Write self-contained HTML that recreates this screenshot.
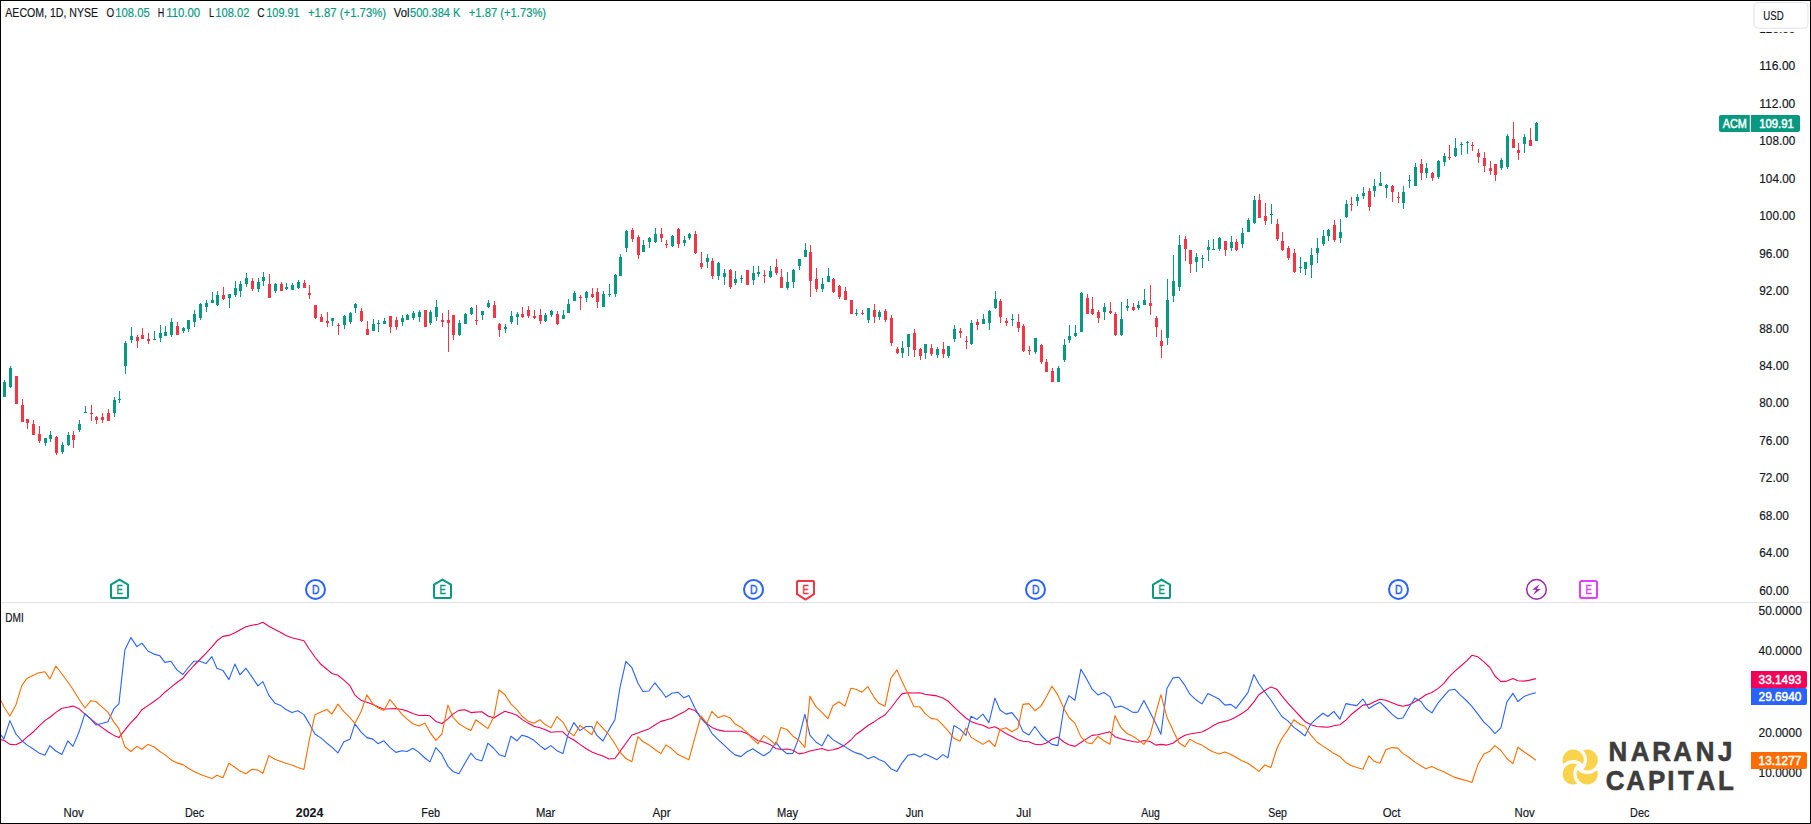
<!DOCTYPE html>
<html lang="en"><head><meta charset="utf-8"><title>AECOM, 1D, NYSE</title>
<style>html,body{margin:0;padding:0;background:#fff;}body{width:1811px;height:824px;overflow:hidden;font-family:"Liberation Sans",sans-serif;}svg text{white-space:pre;}</style>
</head><body>
<svg width="1811" height="824" viewBox="0 0 1811 824" font-family="Liberation Sans, sans-serif" style="display:block">
<g shape-rendering="crispEdges"><path fill="#089981" d="M4 380h1v17h-1z M3 382h3v15h-3z M10 366h1v22h-1z M9 368h3v19h-3z M45 438h1v8h-1z M44 438h3v5h-3z M50 431h1v11h-1z M49 435h3v4h-3z M62 442h1v12h-1z M61 445h3v7h-3z M68 432h1v14h-1z M67 435h3v10h-3z M79 420h1v12h-1z M78 424h3v6h-3z M85 406h1v7h-1z M84 412h3v1h-3z M114 397h1v20h-1z M113 400h3v13h-3z M119 391h1v12h-1z M118 399h3v1h-3z M125 341h1v33h-1z M124 343h3v23h-3z M131 327h1v16h-1z M130 336h3v4h-3z M154 331h1v9h-1z M153 339h3v1h-3z M160 325h1v17h-1z M159 333h3v5h-3z M165 326h1v10h-1z M164 332h3v4h-3z M171 318h1v19h-1z M170 322h3v13h-3z M183 327h1v6h-1z M182 328h3v3h-3z M188 320h1v12h-1z M187 320h3v9h-3z M194 310h1v17h-1z M193 314h3v8h-3z M200 303h1v17h-1z M199 304h3v14h-3z M206 300h1v12h-1z M205 303h3v4h-3z M212 292h1v11h-1z M211 300h3v3h-3z M217 291h1v15h-1z M216 295h3v10h-3z M229 294h1v14h-1z M228 294h3v4h-3z M235 281h1v16h-1z M234 288h3v7h-3z M240 281h1v16h-1z M239 284h3v7h-3z M246 273h1v14h-1z M245 278h3v6h-3z M258 278h1v14h-1z M257 282h3v7h-3z M263 272h1v14h-1z M262 277h3v4h-3z M275 283h1v10h-1z M274 284h3v7h-3z M286 283h1v7h-1z M285 287h3v2h-3z M292 283h1v7h-1z M291 285h3v5h-3z M298 280h1v9h-1z M297 282h3v6h-3z M332 318h1v8h-1z M331 318h3v3h-3z M344 315h1v14h-1z M343 316h3v9h-3z M350 312h1v12h-1z M349 313h3v9h-3z M355 303h1v10h-1z M354 304h3v4h-3z M373 319h1v12h-1z M372 324h3v7h-3z M378 320h1v12h-1z M377 323h3v1h-3z M384 318h1v6h-1z M383 321h3v3h-3z M402 315h1v11h-1z M401 318h3v4h-3z M407 314h1v6h-1z M406 315h3v5h-3z M413 311h1v9h-1z M412 313h3v5h-3z M419 310h1v12h-1z M418 312h3v5h-3z M430 310h1v15h-1z M429 312h3v11h-3z M436 300h1v21h-1z M435 307h3v10h-3z M459 320h1v16h-1z M458 323h3v12h-3z M465 313h1v11h-1z M464 314h3v10h-3z M471 307h1v8h-1z M470 308h3v6h-3z M482 311h1v9h-1z M481 311h3v4h-3z M488 300h1v8h-1z M487 303h3v4h-3z M505 324h1v9h-1z M504 327h3v2h-3z M511 311h1v13h-1z M510 316h3v6h-3z M517 312h1v13h-1z M516 314h3v3h-3z M545 313h1v9h-1z M544 315h3v6h-3z M551 310h1v7h-1z M550 311h3v4h-3z M563 310h1v9h-1z M562 315h3v4h-3z M568 299h1v14h-1z M567 304h3v9h-3z M574 291h1v10h-1z M573 293h3v8h-3z M586 291h1v11h-1z M585 292h3v6h-3z M603 291h1v16h-1z M602 294h3v13h-3z M609 284h1v13h-1z M608 294h3v1h-3z M615 274h1v23h-1z M614 275h3v19h-3z M620 254h1v22h-1z M619 257h3v19h-3z M626 230h1v22h-1z M625 231h3v17h-3z M643 240h1v12h-1z M642 245h3v7h-3z M649 237h1v11h-1z M648 238h3v4h-3z M655 228h1v15h-1z M654 234h3v8h-3z M672 235h1v12h-1z M671 236h3v10h-3z M684 236h1v10h-1z M683 240h3v3h-3z M689 233h1v7h-1z M688 234h3v4h-3z M707 254h1v14h-1z M706 258h3v4h-3z M718 262h1v18h-1z M717 263h3v13h-3z M724 269h1v16h-1z M723 273h3v4h-3z M735 271h1v14h-1z M734 279h3v4h-3z M741 275h1v8h-1z M740 278h3v1h-3z M753 266h1v19h-1z M752 273h3v7h-3z M758 266h1v11h-1z M757 272h3v2h-3z M770 266h1v12h-1z M769 271h3v6h-3z M787 272h1v18h-1z M786 282h3v6h-3z M793 269h1v19h-1z M792 270h3v12h-3z M799 259h1v11h-1z M798 259h3v7h-3z M805 243h1v14h-1z M804 250h3v7h-3z M822 278h1v14h-1z M821 284h3v5h-3z M828 268h1v14h-1z M827 276h3v6h-3z M856 309h1v7h-1z M855 313h3v1h-3z M868 308h1v15h-1z M867 308h3v12h-3z M879 310h1v10h-1z M878 312h3v5h-3z M902 341h1v17h-1z M901 348h3v5h-3z M908 334h1v22h-1z M907 334h3v13h-3z M925 344h1v15h-1z M924 344h3v9h-3z M937 347h1v11h-1z M936 349h3v6h-3z M948 346h1v12h-1z M947 346h3v10h-3z M954 325h1v17h-1z M953 329h3v10h-3z M971 320h1v25h-1z M970 323h3v21h-3z M983 314h1v10h-1z M982 319h3v5h-3z M989 310h1v20h-1z M988 311h3v12h-3z M995 291h1v18h-1z M994 299h3v9h-3z M1012 314h1v12h-1z M1011 319h3v1h-3z M1035 338h1v16h-1z M1034 338h3v14h-3z M1058 366h1v16h-1z M1057 368h3v14h-3z M1064 339h1v23h-1z M1063 345h3v15h-3z M1069 325h1v18h-1z M1068 336h3v4h-3z M1075 325h1v12h-1z M1074 333h3v3h-3z M1081 292h1v40h-1z M1080 293h3v39h-3z M1104 303h1v17h-1z M1103 307h3v5h-3z M1121 302h1v34h-1z M1120 319h3v16h-3z M1127 299h1v12h-1z M1126 306h3v2h-3z M1138 301h1v9h-1z M1137 305h3v3h-3z M1144 289h1v16h-1z M1143 300h3v5h-3z M1167 279h1v66h-1z M1166 300h3v38h-3z M1173 255h1v47h-1z M1172 281h3v15h-3z M1179 235h1v56h-1z M1178 245h3v42h-3z M1196 253h1v19h-1z M1195 257h3v5h-3z M1202 255h1v13h-1z M1201 258h3v1h-3z M1208 240h1v21h-1z M1207 247h3v3h-3z M1213 239h1v11h-1z M1212 249h3v1h-3z M1219 237h1v14h-1z M1218 238h3v11h-3z M1231 236h1v15h-1z M1230 242h3v6h-3z M1242 228h1v20h-1z M1241 233h3v11h-3z M1248 218h1v14h-1z M1247 220h3v12h-3z M1254 196h1v28h-1z M1253 200h3v23h-3z M1271 204h1v20h-1z M1270 214h3v1h-3z M1300 257h1v16h-1z M1299 267h3v1h-3z M1305 262h1v13h-1z M1304 262h3v7h-3z M1311 248h1v30h-1z M1310 255h3v10h-3z M1317 238h1v25h-1z M1316 248h3v5h-3z M1323 230h1v16h-1z M1322 236h3v8h-3z M1328 229h1v12h-1z M1327 230h3v6h-3z M1340 219h1v24h-1z M1339 232h3v6h-3z M1346 200h1v18h-1z M1345 204h3v13h-3z M1357 194h1v12h-1z M1356 197h3v4h-3z M1363 187h1v12h-1z M1362 193h3v3h-3z M1374 179h1v18h-1z M1373 186h3v5h-3z M1380 172h1v14h-1z M1379 183h3v3h-3z M1386 184h1v14h-1z M1385 185h3v3h-3z M1403 186h1v23h-1z M1402 192h3v11h-3z M1409 175h1v13h-1z M1408 180h3v1h-3z M1415 163h1v23h-1z M1414 167h3v19h-3z M1426 163h1v15h-1z M1425 168h3v5h-3z M1438 160h1v19h-1z M1437 161h3v16h-3z M1444 153h1v13h-1z M1443 156h3v6h-3z M1455 138h1v19h-1z M1454 148h3v8h-3z M1461 142h1v13h-1z M1460 144h3v1h-3z M1467 141h1v13h-1z M1466 142h3v1h-3z M1501 158h1v12h-1z M1500 160h3v8h-3z M1507 134h1v35h-1z M1506 136h3v31h-3z M1524 134h1v19h-1z M1523 137h3v7h-3z M1536 122h1v19h-1z M1535 123h3v18h-3z"/><path fill="#F23645" d="M16 376h1v28h-1z M15 376h3v28h-3z M22 399h1v23h-1z M21 405h3v17h-3z M27 419h1v10h-1z M26 419h3v4h-3z M33 420h1v15h-1z M32 424h3v11h-3z M39 426h1v17h-1z M38 434h3v7h-3z M56 436h1v19h-1z M55 437h3v16h-3z M73 431h1v17h-1z M72 435h3v5h-3z M91 405h1v16h-1z M90 413h3v1h-3z M96 416h1v8h-1z M95 417h3v3h-3z M102 413h1v10h-1z M101 417h3v3h-3z M108 409h1v12h-1z M107 413h3v8h-3z M137 335h1v13h-1z M136 337h3v4h-3z M142 328h1v11h-1z M141 335h3v4h-3z M148 333h1v11h-1z M147 339h3v2h-3z M177 322h1v13h-1z M176 326h3v9h-3z M223 287h1v13h-1z M222 295h3v4h-3z M252 278h1v13h-1z M251 281h3v8h-3z M269 274h1v24h-1z M268 284h3v14h-3z M281 282h1v9h-1z M280 284h3v7h-3z M304 280h1v8h-1z M303 283h3v5h-3z M309 285h1v14h-1z M308 293h3v2h-3z M315 305h1v14h-1z M314 305h3v13h-3z M321 314h1v8h-1z M320 317h3v5h-3z M327 312h1v15h-1z M326 321h3v2h-3z M338 323h1v12h-1z M337 325h3v1h-3z M361 308h1v14h-1z M360 311h3v10h-3z M367 321h1v14h-1z M366 329h3v6h-3z M390 316h1v17h-1z M389 316h3v11h-3z M396 317h1v13h-1z M395 320h3v7h-3z M425 310h1v17h-1z M424 310h3v17h-3z M442 313h1v14h-1z M441 320h3v2h-3z M448 310h1v42h-1z M447 320h3v3h-3z M453 315h1v25h-1z M452 315h3v20h-3z M476 305h1v20h-1z M475 320h3v1h-3z M494 301h1v17h-1z M493 305h3v13h-3z M499 323h1v14h-1z M498 324h3v6h-3z M522 307h1v11h-1z M521 314h3v3h-3z M528 306h1v12h-1z M527 310h3v6h-3z M534 310h1v9h-1z M533 316h3v2h-3z M540 309h1v15h-1z M539 315h3v6h-3z M557 311h1v14h-1z M556 314h3v10h-3z M580 295h1v15h-1z M579 297h3v1h-3z M592 288h1v10h-1z M591 294h3v3h-3z M597 288h1v20h-1z M596 292h3v10h-3z M632 228h1v14h-1z M631 230h3v9h-3z M638 235h1v24h-1z M637 237h3v18h-3z M661 228h1v14h-1z M660 234h3v4h-3z M666 240h1v8h-1z M665 244h3v1h-3z M678 228h1v20h-1z M677 229h3v15h-3z M695 231h1v23h-1z M694 234h3v19h-3z M701 252h1v17h-1z M700 263h3v4h-3z M712 258h1v21h-1z M711 261h3v15h-3z M730 269h1v20h-1z M729 270h3v17h-3z M747 270h1v15h-1z M746 270h3v15h-3z M764 270h1v13h-1z M763 275h3v1h-3z M776 259h1v16h-1z M775 267h3v6h-3z M781 269h1v19h-1z M780 277h3v11h-3z M810 245h1v52h-1z M809 252h3v29h-3z M816 268h1v24h-1z M815 279h3v10h-3z M833 278h1v15h-1z M832 279h3v13h-3z M839 285h1v14h-1z M838 286h3v11h-3z M845 287h1v13h-1z M844 291h3v9h-3z M851 300h1v14h-1z M850 300h3v14h-3z M862 310h1v5h-1z M861 313h3v1h-3z M874 304h1v19h-1z M873 310h3v7h-3z M885 309h1v13h-1z M884 311h3v9h-3z M891 315h1v31h-1z M890 318h3v25h-3z M897 347h1v7h-1z M896 349h3v4h-3z M914 329h1v28h-1z M913 333h3v17h-3z M920 348h1v12h-1z M919 349h3v7h-3z M931 344h1v12h-1z M930 348h3v6h-3z M943 342h1v16h-1z M942 349h3v5h-3z M960 328h1v10h-1z M959 331h3v2h-3z M966 336h1v13h-1z M965 341h3v1h-3z M977 319h1v11h-1z M976 322h3v3h-3z M1000 299h1v24h-1z M999 301h3v16h-3z M1006 318h1v8h-1z M1005 321h3v2h-3z M1018 314h1v18h-1z M1017 322h3v6h-3z M1023 324h1v28h-1z M1022 326h3v25h-3z M1029 346h1v9h-1z M1028 350h3v1h-3z M1041 344h1v20h-1z M1040 345h3v17h-3z M1046 359h1v13h-1z M1045 362h3v10h-3z M1052 368h1v14h-1z M1051 371h3v11h-3z M1087 294h1v20h-1z M1086 298h3v16h-3z M1092 297h1v18h-1z M1091 309h3v5h-3z M1098 310h1v13h-1z M1097 312h3v6h-3z M1110 302h1v12h-1z M1109 311h3v2h-3z M1115 312h1v24h-1z M1114 314h3v21h-3z M1133 303h1v8h-1z M1132 307h3v3h-3z M1150 285h1v30h-1z M1149 303h3v3h-3z M1156 316h1v21h-1z M1155 318h3v9h-3z M1161 330h1v28h-1z M1160 341h3v5h-3z M1185 236h1v25h-1z M1184 239h3v10h-3z M1190 250h1v23h-1z M1189 250h3v14h-3z M1225 241h1v15h-1z M1224 241h3v9h-3z M1236 239h1v12h-1z M1235 242h3v8h-3z M1259 194h1v24h-1z M1258 200h3v18h-3z M1265 203h1v22h-1z M1264 216h3v5h-3z M1277 219h1v22h-1z M1276 224h3v15h-3z M1282 232h1v19h-1z M1281 241h3v9h-3z M1288 246h1v14h-1z M1287 248h3v10h-3z M1294 249h1v24h-1z M1293 253h3v19h-3z M1334 220h1v22h-1z M1333 225h3v15h-3z M1351 197h1v14h-1z M1350 204h3v1h-3z M1369 188h1v23h-1z M1368 191h3v16h-3z M1392 185h1v17h-1z M1391 186h3v6h-3z M1398 192h1v11h-1z M1397 197h3v1h-3z M1421 159h1v21h-1z M1420 164h3v9h-3z M1432 172h1v9h-1z M1431 173h3v5h-3z M1449 145h1v15h-1z M1448 157h3v1h-3z M1472 142h1v9h-1z M1471 145h3v1h-3z M1478 149h1v14h-1z M1477 153h3v4h-3z M1484 152h1v20h-1z M1483 158h3v8h-3z M1490 161h1v14h-1z M1489 168h3v3h-3z M1495 164h1v17h-1z M1494 164h3v11h-3z M1513 122h1v26h-1z M1512 139h3v9h-3z M1518 143h1v17h-1z M1517 150h3v3h-3z M1530 128h1v18h-1z M1529 140h3v6h-3z"/></g>
<rect x="1" y="602" width="1809" height="1" fill="#e0e3eb" shape-rendering="crispEdges"/>
<polyline fill="none" stroke="#F50057" stroke-width="1.1" stroke-linejoin="round" points="0.6,739.6 3.9,740.3 9.9,744.4 15.9,744.7 21.9,741.7 26.9,737.1 32.9,732.3 38.9,726.2 44.9,720.6 49.9,717.2 55.9,712.4 61.9,708.3 67.9,707.3 72.9,706.1 78.9,708.7 84.9,714.1 90.9,718.9 95.9,723.3 101.9,727.4 107.9,731.8 113.9,735.4 118.9,737.6 124.9,729.9 130.9,722.6 136.9,716.5 141.9,709.7 147.9,705.6 153.9,701.5 159.9,697.1 164.9,692.2 170.9,687.4 176.9,682.5 182.9,678.2 187.9,672.1 193.9,665.5 199.9,659.5 205.9,653.4 211.9,646.8 216.9,640.8 222.9,636.4 228.9,635.4 234.9,632.8 239.9,629.9 245.9,626.7 251.9,625.2 257.9,624.3 262.9,622.3 268.9,626.2 274.9,629.6 280.9,632.5 285.9,635.4 291.9,637.7 297.9,639.2 303.9,640.8 308.9,648.5 314.9,657.0 320.9,664.3 326.9,669.2 331.9,673.5 337.9,675.2 343.9,680.1 349.9,685.7 354.9,695.1 360.9,700.2 366.9,702.2 372.9,704.4 377.9,706.8 383.9,709.2 389.9,708.7 395.9,708.5 401.9,709.5 406.9,710.9 412.9,713.6 418.9,715.5 424.9,715.3 429.9,715.8 435.9,721.4 441.9,723.5 447.9,718.9 452.9,714.1 458.9,710.4 464.9,709.7 470.9,712.6 475.9,712.1 481.9,711.7 487.9,716.0 493.9,718.0 498.9,714.8 504.9,711.2 510.9,713.1 516.9,715.3 521.9,719.4 527.9,723.1 533.9,726.2 539.9,727.7 544.9,729.4 550.9,732.3 556.9,731.8 562.9,731.8 567.9,736.7 573.9,740.0 579.9,744.4 585.9,748.5 591.9,751.9 596.9,754.1 602.9,756.1 608.9,759.0 614.9,758.5 619.9,751.7 625.9,743.2 631.9,735.0 637.9,733.0 642.9,731.1 648.9,728.9 654.9,725.0 660.9,721.4 665.9,720.1 671.9,718.2 677.9,715.0 683.9,712.1 688.9,708.5 694.9,710.4 700.9,717.2 706.9,723.8 711.9,727.4 717.9,729.9 723.9,731.1 729.9,731.3 734.9,731.3 740.9,731.3 746.9,733.5 752.9,737.1 757.9,740.8 763.9,742.0 769.9,744.4 775.9,748.5 780.9,749.5 786.9,749.0 792.9,750.2 798.9,753.9 804.9,752.7 809.9,751.0 815.9,749.8 821.9,748.5 827.9,750.5 832.9,749.8 838.9,748.1 844.9,744.9 850.9,740.0 855.9,734.5 861.9,730.3 867.9,725.5 873.9,722.1 878.9,718.4 884.9,715.0 890.9,708.0 896.9,700.0 901.9,693.9 907.9,692.7 913.9,693.0 919.9,692.7 924.9,694.2 930.9,695.1 936.9,695.9 942.9,698.1 947.9,701.0 953.9,706.8 959.9,712.6 965.9,718.0 970.9,721.4 976.9,723.8 982.9,725.2 988.9,728.2 994.9,726.7 999.9,729.6 1005.9,733.5 1011.9,736.4 1017.9,739.8 1022.9,741.3 1028.9,741.7 1034.9,744.2 1040.9,744.7 1045.9,743.2 1051.9,739.3 1057.9,737.1 1063.9,742.0 1068.9,744.7 1074.9,746.4 1080.9,742.5 1086.9,738.6 1091.9,735.4 1097.9,734.7 1103.9,733.3 1109.9,731.8 1114.9,736.7 1120.9,738.8 1126.9,740.3 1132.9,741.5 1137.9,742.2 1143.9,740.5 1149.9,741.5 1155.9,745.1 1160.9,744.4 1166.9,745.1 1172.9,743.2 1178.9,738.8 1184.9,735.2 1189.9,734.0 1195.9,733.0 1201.9,732.0 1207.9,729.1 1212.9,725.7 1218.9,722.8 1224.9,721.4 1230.9,719.4 1235.9,717.0 1241.9,713.6 1247.9,709.2 1253.9,701.9 1258.9,694.7 1264.9,690.5 1270.9,686.9 1276.9,689.3 1281.9,695.9 1287.9,703.2 1293.9,709.7 1299.9,716.0 1304.9,721.4 1310.9,724.8 1316.9,726.5 1322.9,726.9 1327.9,727.2 1333.9,725.7 1339.9,724.8 1345.9,720.1 1350.9,714.8 1356.9,710.0 1362.9,705.1 1368.9,704.4 1373.9,701.9 1379.9,699.3 1385.9,700.2 1391.9,702.7 1397.9,705.1 1402.9,706.3 1408.9,704.9 1414.9,701.7 1420.9,698.3 1425.9,694.7 1431.9,692.5 1437.9,688.6 1443.9,683.4 1448.9,677.2 1454.9,671.2 1460.9,666.0 1466.9,660.7 1471.9,655.3 1477.9,656.8 1483.9,661.9 1489.9,667.5 1494.9,676.0 1500.9,681.6 1506.9,681.1 1512.9,678.4 1517.9,680.8 1523.9,681.1 1529.9,680.1 1535.9,678.6"/>
<polyline fill="none" stroke="#2962FF" stroke-width="1.1" stroke-linejoin="round" points="0.6,734.7 3.9,738.8 9.9,720.6 15.9,734.0 21.9,740.8 26.9,744.9 32.9,748.8 38.9,752.9 44.9,755.3 49.9,745.6 55.9,751.0 61.9,754.4 67.9,740.8 72.9,746.4 78.9,732.3 84.9,713.6 90.9,719.4 95.9,725.0 101.9,723.5 107.9,721.8 113.9,708.7 118.9,703.9 124.9,649.8 130.9,637.6 136.9,646.6 141.9,643.2 147.9,651.0 153.9,654.1 159.9,655.8 164.9,662.4 170.9,661.2 176.9,669.9 182.9,674.5 187.9,668.0 193.9,661.2 199.9,661.2 205.9,663.6 211.9,656.6 216.9,668.2 222.9,670.4 228.9,679.6 234.9,664.1 239.9,674.8 245.9,668.2 251.9,676.9 257.9,685.9 262.9,681.6 268.9,695.4 274.9,703.2 280.9,705.6 285.9,709.5 291.9,712.5 297.9,710.8 303.9,714.6 308.9,723.1 314.9,734.0 320.9,737.9 326.9,743.2 331.9,747.1 337.9,752.9 343.9,741.7 349.9,739.3 354.9,723.8 360.9,731.8 366.9,737.6 372.9,739.1 377.9,743.7 383.9,740.8 389.9,747.3 395.9,752.4 401.9,750.7 406.9,751.5 412.9,748.3 418.9,752.4 424.9,758.0 429.9,761.9 435.9,747.6 441.9,754.4 447.9,766.3 452.9,771.4 458.9,773.8 464.9,763.3 470.9,753.2 475.9,759.0 481.9,760.9 487.9,743.2 493.9,748.5 498.9,754.4 504.9,756.8 510.9,736.2 516.9,740.8 521.9,735.2 527.9,736.9 533.9,740.3 539.9,745.6 544.9,749.5 550.9,745.6 556.9,750.7 562.9,753.6 567.9,735.0 573.9,722.6 579.9,730.6 585.9,726.5 591.9,726.5 596.9,735.4 602.9,741.0 608.9,729.9 614.9,719.7 619.9,687.9 625.9,661.4 631.9,667.7 637.9,683.0 642.9,691.5 648.9,691.0 654.9,682.8 660.9,690.3 665.9,697.3 671.9,693.2 677.9,692.2 683.9,697.8 688.9,695.4 694.9,708.0 700.9,718.2 706.9,724.5 711.9,733.3 717.9,739.3 723.9,744.9 729.9,750.7 734.9,754.9 740.9,756.6 746.9,751.7 752.9,748.8 757.9,752.2 763.9,755.8 769.9,751.7 775.9,742.2 780.9,748.8 786.9,753.6 792.9,753.4 798.9,737.6 804.9,714.3 809.9,735.2 815.9,742.0 821.9,745.9 827.9,734.7 832.9,739.6 838.9,743.2 844.9,746.6 850.9,750.5 855.9,752.9 861.9,754.6 867.9,758.7 873.9,756.6 878.9,759.5 884.9,762.1 890.9,768.7 896.9,771.4 901.9,763.1 907.9,755.3 913.9,754.1 919.9,757.0 924.9,753.9 930.9,756.8 936.9,759.7 942.9,754.6 947.9,757.8 953.9,725.5 959.9,729.1 965.9,735.4 970.9,716.3 976.9,719.4 982.9,714.1 988.9,722.6 994.9,698.1 999.9,709.7 1005.9,714.1 1011.9,712.6 1017.9,720.1 1022.9,731.6 1028.9,735.0 1034.9,726.5 1040.9,735.0 1045.9,740.0 1051.9,744.4 1057.9,745.6 1063.9,708.0 1068.9,695.6 1074.9,700.2 1080.9,669.2 1086.9,679.4 1091.9,688.8 1097.9,694.9 1103.9,692.5 1109.9,696.6 1114.9,707.5 1120.9,706.1 1126.9,708.7 1132.9,712.4 1137.9,712.1 1143.9,700.5 1149.9,712.1 1155.9,723.8 1160.9,734.2 1166.9,688.6 1172.9,677.9 1178.9,677.2 1184.9,685.4 1189.9,694.2 1195.9,699.8 1201.9,703.9 1207.9,693.4 1212.9,696.1 1218.9,699.0 1224.9,705.1 1230.9,704.4 1235.9,708.3 1241.9,700.7 1247.9,692.7 1253.9,674.5 1258.9,683.7 1264.9,692.2 1270.9,700.0 1276.9,709.2 1281.9,716.5 1287.9,720.9 1293.9,727.4 1299.9,731.8 1304.9,735.9 1310.9,723.8 1316.9,718.2 1322.9,713.3 1327.9,716.5 1333.9,711.4 1339.9,719.2 1345.9,703.6 1350.9,704.6 1356.9,705.6 1362.9,699.0 1368.9,708.5 1373.9,705.3 1379.9,702.2 1385.9,708.0 1391.9,714.1 1397.9,718.7 1402.9,718.0 1408.9,707.5 1414.9,698.1 1420.9,701.5 1425.9,708.5 1431.9,712.9 1437.9,703.2 1443.9,696.2 1448.9,690.3 1454.9,689.3 1460.9,695.6 1466.9,701.0 1471.9,706.3 1477.9,714.1 1483.9,722.1 1489.9,727.7 1494.9,733.7 1500.9,727.9 1506.9,701.9 1512.9,693.4 1517.9,701.5 1523.9,696.6 1529.9,694.2 1535.9,692.7"/>
<polyline fill="none" stroke="#FF6D00" stroke-width="1.1" stroke-linejoin="round" points="0.6,700.0 3.9,706.8 9.9,716.0 15.9,704.9 21.9,685.4 26.9,678.4 32.9,675.5 38.9,672.8 44.9,671.8 49.9,678.9 55.9,666.0 61.9,674.0 67.9,682.0 72.9,689.3 78.9,699.0 84.9,708.0 90.9,700.7 95.9,701.5 101.9,706.8 107.9,712.1 113.9,722.1 118.9,728.6 124.9,746.8 130.9,751.5 136.9,746.4 141.9,749.3 147.9,744.4 153.9,746.8 159.9,751.5 164.9,754.6 170.9,759.7 176.9,762.9 182.9,764.6 187.9,768.0 193.9,771.4 199.9,774.3 205.9,776.5 211.9,778.6 216.9,775.2 222.9,777.7 228.9,763.3 234.9,767.2 239.9,771.1 245.9,773.8 251.9,769.2 257.9,770.1 262.9,773.3 268.9,755.6 274.9,759.2 280.9,761.4 285.9,763.3 291.9,765.0 297.9,767.5 303.9,769.4 308.9,742.0 314.9,714.8 320.9,712.1 326.9,709.5 331.9,714.1 337.9,704.1 343.9,711.7 349.9,717.7 354.9,723.3 360.9,712.1 366.9,694.9 372.9,703.9 377.9,707.8 383.9,710.4 389.9,699.5 395.9,706.8 401.9,714.1 406.9,718.9 412.9,723.8 418.9,726.0 424.9,723.1 429.9,732.3 435.9,740.3 441.9,734.0 447.9,705.1 452.9,717.0 458.9,723.8 464.9,727.4 470.9,730.6 475.9,719.7 481.9,724.3 487.9,728.6 493.9,716.5 498.9,689.8 504.9,694.7 510.9,703.9 516.9,709.7 521.9,716.0 527.9,720.9 533.9,723.3 539.9,719.7 544.9,724.3 550.9,727.9 556.9,716.7 562.9,722.1 567.9,731.1 573.9,735.9 579.9,725.2 585.9,730.1 591.9,734.7 596.9,721.6 602.9,728.2 608.9,734.7 614.9,743.7 619.9,752.2 625.9,758.5 631.9,761.7 637.9,736.7 642.9,741.5 648.9,744.9 654.9,749.5 660.9,753.6 665.9,744.9 671.9,748.8 677.9,754.6 683.9,757.3 688.9,759.7 694.9,737.6 700.9,716.0 706.9,723.1 711.9,711.4 717.9,717.7 723.9,715.5 729.9,717.7 734.9,723.8 740.9,727.2 746.9,732.3 752.9,739.3 757.9,743.9 763.9,735.4 769.9,739.6 775.9,744.9 780.9,727.4 786.9,729.4 792.9,736.2 798.9,740.3 804.9,747.3 809.9,696.4 815.9,706.6 821.9,712.4 827.9,718.7 832.9,705.8 838.9,701.7 844.9,706.1 850.9,688.3 855.9,689.3 861.9,692.2 867.9,686.7 873.9,697.1 878.9,703.3 884.9,706.3 890.9,678.2 896.9,669.9 901.9,681.3 907.9,693.4 913.9,706.6 919.9,706.8 924.9,713.3 930.9,718.4 936.9,719.2 942.9,725.2 947.9,730.6 953.9,738.3 959.9,741.3 965.9,727.9 970.9,737.1 976.9,740.8 982.9,744.4 988.9,740.5 994.9,746.6 999.9,729.6 1005.9,727.7 1011.9,731.8 1017.9,728.2 1022.9,704.4 1028.9,703.6 1034.9,710.7 1040.9,706.1 1045.9,697.8 1051.9,686.2 1057.9,695.1 1063.9,708.5 1068.9,717.5 1074.9,723.1 1080.9,736.9 1086.9,742.7 1091.9,743.7 1097.9,736.4 1103.9,740.8 1109.9,744.2 1114.9,715.5 1120.9,727.4 1126.9,733.5 1132.9,736.2 1137.9,739.6 1143.9,744.4 1149.9,735.9 1155.9,712.9 1160.9,694.7 1166.9,717.2 1172.9,729.9 1178.9,742.7 1184.9,746.8 1189.9,739.1 1195.9,742.7 1201.9,745.1 1207.9,749.0 1212.9,751.7 1218.9,753.9 1224.9,751.9 1230.9,754.6 1235.9,757.3 1241.9,760.7 1247.9,763.3 1253.9,767.5 1258.9,771.4 1264.9,765.0 1270.9,767.5 1276.9,748.5 1281.9,738.3 1287.9,729.9 1293.9,719.7 1299.9,724.3 1304.9,726.2 1310.9,735.2 1316.9,742.0 1322.9,746.1 1327.9,749.3 1333.9,753.6 1339.9,756.6 1345.9,762.6 1350.9,765.5 1356.9,767.5 1362.9,769.2 1368.9,755.8 1373.9,761.2 1379.9,763.3 1385.9,749.8 1391.9,747.6 1397.9,748.1 1402.9,753.6 1408.9,757.3 1414.9,762.1 1420.9,765.8 1425.9,768.7 1431.9,766.5 1437.9,769.4 1443.9,771.8 1448.9,774.5 1454.9,777.4 1460.9,779.1 1466.9,780.8 1471.9,782.5 1477.9,764.6 1483.9,753.9 1489.9,751.2 1494.9,745.6 1500.9,750.5 1506.9,758.5 1512.9,763.6 1517.9,747.3 1523.9,751.7 1529.9,755.8 1535.9,760.2"/>
<text x="5.30" y="16.70" font-size="12" fill="#131722" stroke="#131722" stroke-width="0.18" textLength="92.80" lengthAdjust="spacingAndGlyphs">AECOM, 1D, NYSE</text>
<text x="106.40" y="16.70" font-size="12" fill="#131722" stroke="#131722" stroke-width="0.18" textLength="7.70" lengthAdjust="spacingAndGlyphs">O</text>
<text x="115.20" y="16.70" font-size="12" fill="#089981" stroke="#089981" stroke-width="0.18" textLength="34.50" lengthAdjust="spacingAndGlyphs">108.05</text>
<text x="157.70" y="16.70" font-size="12" fill="#131722" stroke="#131722" stroke-width="0.18" textLength="6.50" lengthAdjust="spacingAndGlyphs">H</text>
<text x="166.20" y="16.70" font-size="12" fill="#089981" stroke="#089981" stroke-width="0.18" textLength="34.00" lengthAdjust="spacingAndGlyphs">110.00</text>
<text x="209.00" y="16.70" font-size="12" fill="#131722" stroke="#131722" stroke-width="0.18" textLength="5.10" lengthAdjust="spacingAndGlyphs">L</text>
<text x="215.20" y="16.70" font-size="12" fill="#089981" stroke="#089981" stroke-width="0.18" textLength="34.20" lengthAdjust="spacingAndGlyphs">108.02</text>
<text x="257.20" y="16.70" font-size="12" fill="#131722" stroke="#131722" stroke-width="0.18" textLength="7.30" lengthAdjust="spacingAndGlyphs">C</text>
<text x="266.30" y="16.70" font-size="12" fill="#089981" stroke="#089981" stroke-width="0.18" textLength="33.30" lengthAdjust="spacingAndGlyphs">109.91</text>
<text x="307.90" y="16.70" font-size="12" fill="#089981" stroke="#089981" stroke-width="0.18" textLength="78.20" lengthAdjust="spacingAndGlyphs">+1.87 (+1.73%)</text>
<text x="393.80" y="16.70" font-size="12" fill="#131722" stroke="#131722" stroke-width="0.18" textLength="15.70" lengthAdjust="spacingAndGlyphs">Vol</text>
<text x="410.00" y="16.70" font-size="12" fill="#089981" stroke="#089981" stroke-width="0.18" textLength="50.50" lengthAdjust="spacingAndGlyphs">500.384 K</text>
<text x="468.80" y="16.70" font-size="12" fill="#089981" stroke="#089981" stroke-width="0.18" textLength="77.30" lengthAdjust="spacingAndGlyphs">+1.87 (+1.73%)</text>
<text x="1759.30" y="594.80" font-size="12" fill="#131722" stroke="#131722" stroke-width="0.18" textLength="29.60" lengthAdjust="spacingAndGlyphs">60.00</text>
<text x="1759.30" y="556.80" font-size="12" fill="#131722" stroke="#131722" stroke-width="0.18" textLength="29.60" lengthAdjust="spacingAndGlyphs">64.00</text>
<text x="1759.30" y="519.80" font-size="12" fill="#131722" stroke="#131722" stroke-width="0.18" textLength="29.60" lengthAdjust="spacingAndGlyphs">68.00</text>
<text x="1759.30" y="481.80" font-size="12" fill="#131722" stroke="#131722" stroke-width="0.18" textLength="29.60" lengthAdjust="spacingAndGlyphs">72.00</text>
<text x="1759.30" y="444.80" font-size="12" fill="#131722" stroke="#131722" stroke-width="0.18" textLength="29.60" lengthAdjust="spacingAndGlyphs">76.00</text>
<text x="1759.30" y="406.80" font-size="12" fill="#131722" stroke="#131722" stroke-width="0.18" textLength="29.60" lengthAdjust="spacingAndGlyphs">80.00</text>
<text x="1759.30" y="369.80" font-size="12" fill="#131722" stroke="#131722" stroke-width="0.18" textLength="29.60" lengthAdjust="spacingAndGlyphs">84.00</text>
<text x="1759.30" y="332.80" font-size="12" fill="#131722" stroke="#131722" stroke-width="0.18" textLength="29.60" lengthAdjust="spacingAndGlyphs">88.00</text>
<text x="1759.30" y="294.80" font-size="12" fill="#131722" stroke="#131722" stroke-width="0.18" textLength="29.60" lengthAdjust="spacingAndGlyphs">92.00</text>
<text x="1759.30" y="257.80" font-size="12" fill="#131722" stroke="#131722" stroke-width="0.18" textLength="29.60" lengthAdjust="spacingAndGlyphs">96.00</text>
<text x="1759.30" y="219.80" font-size="12" fill="#131722" stroke="#131722" stroke-width="0.18" textLength="36.00" lengthAdjust="spacingAndGlyphs">100.00</text>
<text x="1759.30" y="182.80" font-size="12" fill="#131722" stroke="#131722" stroke-width="0.18" textLength="36.00" lengthAdjust="spacingAndGlyphs">104.00</text>
<text x="1759.30" y="144.80" font-size="12" fill="#131722" stroke="#131722" stroke-width="0.18" textLength="36.00" lengthAdjust="spacingAndGlyphs">108.00</text>
<text x="1759.30" y="107.80" font-size="12" fill="#131722" stroke="#131722" stroke-width="0.18" textLength="36.00" lengthAdjust="spacingAndGlyphs">112.00</text>
<text x="1759.30" y="69.80" font-size="12" fill="#131722" stroke="#131722" stroke-width="0.18" textLength="36.00" lengthAdjust="spacingAndGlyphs">116.00</text>
<text x="1759.30" y="32.80" font-size="12" fill="#131722" stroke="#131722" stroke-width="0.18" textLength="36.00" lengthAdjust="spacingAndGlyphs">120.00</text>
<rect x="1750" y="1" width="60" height="30.9" fill="#fff"/>
<rect x="1754" y="2.6" width="54" height="25.6" rx="4" fill="#fff" stroke="#e0e3eb" stroke-width="1"/>
<text x="1763.30" y="19.90" font-size="12" fill="#131722" stroke="#131722" stroke-width="0.18" textLength="20.40" lengthAdjust="spacingAndGlyphs">USD</text>
<path fill="#089981" d="M1721 115h28.8v17h-28.8a2 2 0 0 1-2-2v-13a2 2 0 0 1 2-2z"/>
<path fill="#089981" d="M1751 115h47a2 2 0 0 1 2 2v13a2 2 0 0 1-2 2h-47z"/>
<text x="1722.70" y="128.00" font-size="12" fill="#fff" stroke="#fff" stroke-width="0.5" textLength="24.00" lengthAdjust="spacingAndGlyphs">ACM</text>
<text x="1759.30" y="128.00" font-size="12" fill="#fff" stroke="#fff" stroke-width="0.5" textLength="34.50" lengthAdjust="spacingAndGlyphs">109.91</text>
<text x="1758.50" y="614.80" font-size="12" fill="#131722" stroke="#131722" stroke-width="0.18" textLength="43.30" lengthAdjust="spacingAndGlyphs">50.0000</text>
<text x="1758.50" y="654.80" font-size="12" fill="#131722" stroke="#131722" stroke-width="0.18" textLength="43.30" lengthAdjust="spacingAndGlyphs">40.0000</text>
<text x="1758.50" y="695.80" font-size="12" fill="#131722" stroke="#131722" stroke-width="0.18" textLength="43.30" lengthAdjust="spacingAndGlyphs">30.0000</text>
<text x="1758.50" y="736.80" font-size="12" fill="#131722" stroke="#131722" stroke-width="0.18" textLength="43.30" lengthAdjust="spacingAndGlyphs">20.0000</text>
<text x="1758.50" y="776.80" font-size="12" fill="#131722" stroke="#131722" stroke-width="0.18" textLength="43.30" lengthAdjust="spacingAndGlyphs">10.0000</text>
<path fill="#FF6D00" d="M1751 752h54a2 2 0 0 1 2 2v13a2 2 0 0 1-2 2h-54z"/>
<text x="1758.60" y="765.05" font-size="12" fill="#fff" stroke="#fff" stroke-width="0.5" textLength="42.70" lengthAdjust="spacingAndGlyphs">13.1277</text>
<path fill="#F50057" d="M1751 671h54a2 2 0 0 1 2 2v13a2 2 0 0 1-2 2h-54z"/>
<text x="1758.60" y="684.05" font-size="12" fill="#fff" stroke="#fff" stroke-width="0.5" textLength="42.70" lengthAdjust="spacingAndGlyphs">33.1493</text>
<path fill="#2962FF" d="M1751 688h54a2 2 0 0 1 2 2v13a2 2 0 0 1-2 2h-54z"/>
<text x="1758.60" y="701.05" font-size="12" fill="#fff" stroke="#fff" stroke-width="0.5" textLength="42.70" lengthAdjust="spacingAndGlyphs">29.6940</text>
<text x="5.30" y="621.50" font-size="12" fill="#131722" stroke="#131722" stroke-width="0.18" textLength="18.50" lengthAdjust="spacingAndGlyphs">DMI</text>
<text x="63.50" y="817.20" font-size="12" fill="#131722" stroke="#131722" stroke-width="0.18" textLength="20.20" lengthAdjust="spacingAndGlyphs">Nov</text>
<text x="184.95" y="817.20" font-size="12" fill="#131722" stroke="#131722" stroke-width="0.18" textLength="19.30" lengthAdjust="spacingAndGlyphs">Dec</text>
<text x="295.80" y="817.20" font-size="12" fill="#131722" stroke="#131722" stroke-width="0.1" font-weight="bold" textLength="27.60" lengthAdjust="spacingAndGlyphs">2024</text>
<text x="421.25" y="817.20" font-size="12" fill="#131722" stroke="#131722" stroke-width="0.18" textLength="18.70" lengthAdjust="spacingAndGlyphs">Feb</text>
<text x="535.90" y="817.20" font-size="12" fill="#131722" stroke="#131722" stroke-width="0.18" textLength="19.40" lengthAdjust="spacingAndGlyphs">Mar</text>
<text x="652.60" y="817.20" font-size="12" fill="#131722" stroke="#131722" stroke-width="0.18" textLength="18.00" lengthAdjust="spacingAndGlyphs">Apr</text>
<text x="777.10" y="817.20" font-size="12" fill="#131722" stroke="#131722" stroke-width="0.18" textLength="21.00" lengthAdjust="spacingAndGlyphs">May</text>
<text x="905.70" y="817.20" font-size="12" fill="#131722" stroke="#131722" stroke-width="0.18" textLength="17.80" lengthAdjust="spacingAndGlyphs">Jun</text>
<text x="1016.20" y="817.20" font-size="12" fill="#131722" stroke="#131722" stroke-width="0.18" textLength="14.80" lengthAdjust="spacingAndGlyphs">Jul</text>
<text x="1141.30" y="817.20" font-size="12" fill="#131722" stroke="#131722" stroke-width="0.18" textLength="18.60" lengthAdjust="spacingAndGlyphs">Aug</text>
<text x="1268.25" y="817.20" font-size="12" fill="#131722" stroke="#131722" stroke-width="0.18" textLength="18.70" lengthAdjust="spacingAndGlyphs">Sep</text>
<text x="1382.70" y="817.20" font-size="12" fill="#131722" stroke="#131722" stroke-width="0.18" textLength="17.80" lengthAdjust="spacingAndGlyphs">Oct</text>
<text x="1514.50" y="817.20" font-size="12" fill="#131722" stroke="#131722" stroke-width="0.18" textLength="20.20" lengthAdjust="spacingAndGlyphs">Nov</text>
<text x="1630.05" y="817.20" font-size="12" fill="#131722" stroke="#131722" stroke-width="0.18" textLength="19.30" lengthAdjust="spacingAndGlyphs">Dec</text>
<path d="M111.0 584.7L119.5 579.6L128.0 584.7V597a1 1 0 0 1-1 1H112.0a1 1 0 0 1-1-1z" fill="none" stroke="#089981" stroke-width="2" stroke-linejoin="round"/>
<text x="116.40" y="593.90" font-size="12.5" fill="#089981" stroke="#089981" stroke-width="0.5" textLength="6.30" lengthAdjust="spacingAndGlyphs">E</text>
<circle cx="315.5" cy="589.4" r="9.5" fill="none" stroke="#2962FF" stroke-width="2"/>
<text x="311.90" y="593.90" font-size="12.5" fill="#2962FF" stroke="#2962FF" stroke-width="0.5" textLength="7.50" lengthAdjust="spacingAndGlyphs">D</text>
<path d="M434.0 584.7L442.5 579.6L451.0 584.7V597a1 1 0 0 1-1 1H435.0a1 1 0 0 1-1-1z" fill="none" stroke="#089981" stroke-width="2" stroke-linejoin="round"/>
<text x="439.40" y="593.90" font-size="12.5" fill="#089981" stroke="#089981" stroke-width="0.5" textLength="6.30" lengthAdjust="spacingAndGlyphs">E</text>
<circle cx="753.5" cy="589.4" r="9.5" fill="none" stroke="#2962FF" stroke-width="2"/>
<text x="749.90" y="593.90" font-size="12.5" fill="#2962FF" stroke="#2962FF" stroke-width="0.5" textLength="7.50" lengthAdjust="spacingAndGlyphs">D</text>
<path d="M797.0 594.2L805.5 599.6L814.0 594.2V582a1 1 0 0 0-1-1H798.0a1 1 0 0 0-1 1z" fill="none" stroke="#F23645" stroke-width="2" stroke-linejoin="round"/>
<text x="802.40" y="593.60" font-size="12.5" fill="#F23645" stroke="#F23645" stroke-width="0.5" textLength="6.30" lengthAdjust="spacingAndGlyphs">E</text>
<circle cx="1035.5" cy="589.4" r="9.5" fill="none" stroke="#2962FF" stroke-width="2"/>
<text x="1031.90" y="593.90" font-size="12.5" fill="#2962FF" stroke="#2962FF" stroke-width="0.5" textLength="7.50" lengthAdjust="spacingAndGlyphs">D</text>
<path d="M1153.0 584.7L1161.5 579.6L1170.0 584.7V597a1 1 0 0 1-1 1H1154.0a1 1 0 0 1-1-1z" fill="none" stroke="#089981" stroke-width="2" stroke-linejoin="round"/>
<text x="1158.40" y="593.90" font-size="12.5" fill="#089981" stroke="#089981" stroke-width="0.5" textLength="6.30" lengthAdjust="spacingAndGlyphs">E</text>
<circle cx="1398.5" cy="589.4" r="9.5" fill="none" stroke="#2962FF" stroke-width="2"/>
<text x="1394.90" y="593.90" font-size="12.5" fill="#2962FF" stroke="#2962FF" stroke-width="0.5" textLength="7.50" lengthAdjust="spacingAndGlyphs">D</text>
<circle cx="1536.5" cy="589.4" r="9.8" fill="none" stroke="#9C27B0" stroke-width="1.5"/>
<path fill="#9C27B0" d="M1539.7 583.9L1532.1 589.7H1536.2L1533.1 595.1L1540.8 588.9H1536.7z"/>
<rect x="1580.0" y="581" width="17" height="17" rx="1.5" fill="none" stroke="#E040FB" stroke-width="2"/>
<text x="1585.40" y="593.90" font-size="12.5" fill="#E040FB" stroke="#E040FB" stroke-width="0.5" textLength="6.30" lengthAdjust="spacingAndGlyphs">E</text>
<path fill="#FBD24B" d="M1563.43 764.11A10.6 10.6 0 1 1 1582.97 764.11A13.9 13.9 0 0 0 1563.43 764.11z M1583.09 750.23A10.6 10.6 0 1 1 1583.09 769.77A13.9 13.9 0 0 0 1583.09 750.23z M1596.97 769.89A10.6 10.6 0 1 1 1577.43 769.89A13.9 13.9 0 0 0 1596.97 769.89z M1577.31 783.77A10.6 10.6 0 1 1 1577.31 764.23A13.9 13.9 0 0 0 1577.31 783.77z"/>
<text transform="scale(0.96 1)" x="1675.47 1698.81 1721.19 1743.08 1766.51 1789.51" y="761.2" font-size="27.0" font-weight="bold" fill="#3d3d3d" stroke="#3d3d3d" stroke-width="0.6">NARANJ</text>
<text transform="scale(0.96 1)" x="1672.67 1693.97 1716.65 1736.82 1747.79 1767.25 1789.49" y="789.7" font-size="27.0" font-weight="bold" fill="#3d3d3d" stroke="#3d3d3d" stroke-width="0.6">CAPITAL</text>
<path fill="#000" shape-rendering="crispEdges" d="M0 0h1811v824h-1811z M1 1v822h1809v-822z" fill-rule="evenodd"/>
</svg>
</body></html>
